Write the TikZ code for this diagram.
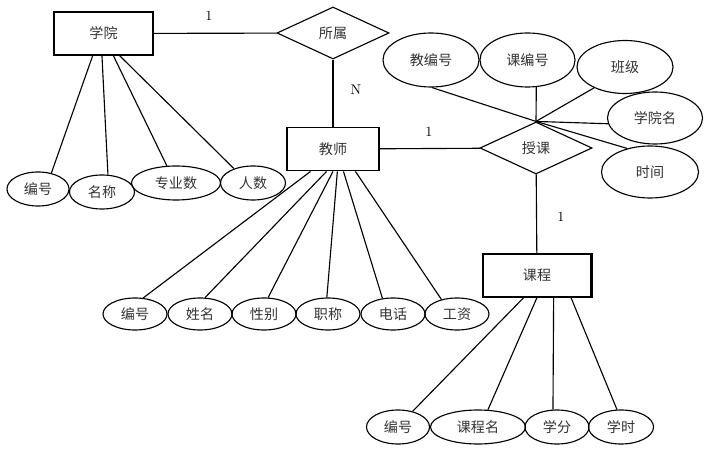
\documentclass[tikz,border=0pt]{standalone}
\usepackage{fontspec}
\newfontfamily\cjk{Noto Sans CJK SC}
\usepackage{tikz}
\usetikzlibrary{shapes.geometric}

\begin{document}
\begin{tikzpicture}[
    x=0.025cm, y=-0.025cm,
    entity/.style={rectangle, draw, line width=0.8pt, minimum height=1.075cm, inner sep=0pt, text=black!80, font=\cjk\fontsize{10}{12}\selectfont},
    relation/.style={diamond, draw, line width=0.8pt, minimum width=2.8cm, minimum height=1.3cm, inner sep=0pt, text=black!80, font=\cjk\fontsize{10}{12}\selectfont},
    attr/.style={ellipse, draw, line width=0.8pt, minimum height=0.85cm, inner sep=0pt, text=black!80, font=\cjk\fontsize{10}{12}\selectfont},
    link/.style={line width=0.8pt},
    card/.style={inner sep=0pt, font=\fontsize{10}{12}\selectfont}
]
    \useasboundingbox (0,0) rectangle (709,451);

    \node[entity, minimum width=2.475cm] (xy) at (103.5,33.5) {学院};
    \node[relation] (ss) at (333,33) {所属};
    \node[entity, minimum width=2.3cm, line width=1.3pt] (js) at (333,149) {教师};
    \node[relation] (sk) at (536,148) {授课};
    \node[entity, minimum width=2.7cm] (kc) at (537,275.5) {课程};

    \node[attr, minimum width=1.55cm] (xbh) at (38,189) {编号};
    \node[attr, minimum width=1.625cm] (xmc) at (102,192) {名称};
    \node[attr, minimum width=2.225cm] (xzys) at (176,183) {专业数};
    \node[attr, minimum width=1.625cm] (xrs) at (253,183) {人数};

    \node[attr, minimum width=2.4cm, minimum height=1.35cm] (jbh) at (431,60) {教编号};
    \node[attr, minimum width=2.375cm, minimum height=1.35cm] (kbh) at (527.5,60) {课编号};
    \node[attr, minimum width=2.4cm, minimum height=1.325cm] (bj) at (625,67) {班级};
    \node[attr, minimum width=2.375cm, minimum height=1.3cm] (xym) at (655,118) {学院名};
    \node[attr, minimum width=2.425cm, minimum height=1.3cm] (sj) at (650,172) {时间};

    \node[attr, minimum width=1.6cm, minimum height=0.8cm] (tbh) at (135,314) {编号};
    \node[attr, minimum width=1.6cm, minimum height=0.8cm] (txm) at (200,314) {姓名};
    \node[attr, minimum width=1.6cm, minimum height=0.8cm] (txb) at (264,314) {性别};
    \node[attr, minimum width=1.6cm, minimum height=0.8cm] (tzc) at (328,314) {职称};
    \node[attr, minimum width=1.6cm, minimum height=0.8cm] (tdh) at (393,314) {电话};
    \node[attr, minimum width=1.6cm, minimum height=0.8cm] (tgz) at (457,314) {工资};

    \node[attr, minimum width=1.575cm] (cbh) at (398,427) {编号};
    \node[attr, minimum width=2.375cm] (ckcm) at (478,427) {课程名};
    \node[attr, minimum width=1.6cm] (cxf) at (557,427) {学分};
    \node[attr, minimum width=1.625cm] (cxs) at (621,427) {学时};

    \node[card] (c1) at (209,16) {1};
    \node[card] (c2) at (356,90) {N};
    \node[card] (c3) at (429,132) {1};
    \node[card] (c4) at (561,217) {1};

    \draw[line width=1.4pt] (kc.north east) -- (kc.south east);

    \draw[link] (xy) -- (ss);
    \draw[link] (ss) -- (js);
    \draw[link] (js) -- (sk);
    \draw[link] (sk) -- (kc);

    \draw[link] (xy.-116) -- (xbh.50);
    \draw[link] (xy.-94) -- (xmc.71);
    \draw[link] (xy.-66) -- (xzys.118);
    \draw[link] (xy.-54) -- (xrs.143);

    \draw[link] (sk.north) -- (jbh.-88);
    \draw[link] (sk.north) -- (kbh.-72);
    \draw[link] (sk.north) -- (bj.-146);
    \draw[link] (sk.north) -- (xym.-173);
    \draw[link] (sk.north) -- (sj.134);

    \draw[link] (js.-135) -- (tbh.63);
    \draw[link] (js.-106) -- (txm.73);
    \draw[link] (js.-90) -- (txb.76);
    \draw[link] (js.-79) -- (tzc.94);
    \draw[link] (js.-65) -- (tdh.124);
    \draw[link] (js.-45) -- (tgz.137);

    \draw[link] (kc.-121) -- (cbh.47);
    \draw[link] (kc.-90) -- (ckcm.60);
    \draw[link] (kc.-53) -- (cxf.103);
    \draw[link] (kc.-33) -- (cxs.103);
\end{tikzpicture}
\end{document}
